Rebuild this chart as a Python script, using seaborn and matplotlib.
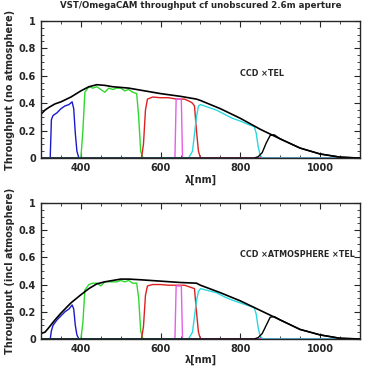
import numpy as np
import pandas as pd
import seaborn as sns
from matplotlib import pyplot as plt
from matplotlib.ticker import MultipleLocator

# ---- CCD x TEL (top) and CCD x ATMOSPHERE x TEL (bottom) ----
env_wl = [300, 310, 320, 335, 350, 375, 400, 420, 440, 460, 480, 500, 520, 550, 600, 650,
          690, 700, 750, 800, 850, 900, 950, 1000, 1050, 1100]
env_top = [0.32, 0.35, 0.37, 0.395, 0.41, 0.445, 0.49, 0.52, 0.535, 0.53, 0.52, 0.515, 0.51,
           0.495, 0.47, 0.45, 0.43, 0.42, 0.36, 0.29, 0.21, 0.14, 0.073, 0.03, 0.007, 0.0]
env_bot = [0.04, 0.05, 0.085, 0.14, 0.19, 0.265, 0.325, 0.37, 0.405, 0.42, 0.43, 0.44, 0.44,
           0.435, 0.425, 0.415, 0.41, 0.395, 0.34, 0.28, 0.21, 0.14, 0.07, 0.03, 0.005, 0.0]

u_wl = [300, 323, 326, 330, 340, 350, 360, 370, 378, 382, 386, 390, 395, 1100]
u_top = [0, 0, 0.28, 0.31, 0.33, 0.36, 0.38, 0.39, 0.41, 0.36, 0.18, 0.05, 0, 0]
u_bot = [0, 0, 0.06, 0.1, 0.14, 0.17, 0.2, 0.22, 0.25, 0.22, 0.1, 0.03, 0, 0]

g_wl = [300, 400, 405, 410, 420, 430, 440, 450, 460, 470, 480, 490, 500, 510, 520, 530,
        540, 545, 550, 556, 1100]
g_top = [0, 0, 0.2, 0.48, 0.52, 0.51, 0.52, 0.5, 0.48, 0.51, 0.5, 0.51, 0.51, 0.49, 0.5,
         0.48, 0.47, 0.3, 0.05, 0, 0]
g_bot = [0, 0, 0.12, 0.36, 0.4, 0.41, 0.41, 0.39, 0.42, 0.42, 0.42, 0.42, 0.43, 0.42, 0.43,
         0.41, 0.41, 0.3, 0.06, 0, 0]

r_wl = [300, 552, 557, 562, 567, 580, 600, 620, 640, 660, 675, 680, 685, 690, 695, 700, 1100]
r_top = [0, 0, 0.1, 0.35, 0.43, 0.445, 0.44, 0.44, 0.43, 0.43, 0.41, 0.4, 0.38, 0.2, 0.05, 0, 0]
r_bot = [0, 0, 0.09, 0.32, 0.39, 0.4, 0.4, 0.395, 0.395, 0.395, 0.38, 0.375, 0.37, 0.2, 0.05, 0, 0]

ha_wl = [300, 636, 639, 652, 655, 1100]
ha_top = [0, 0, 0.43, 0.43, 0, 0]
ha_bot = [0, 0, 0.39, 0.39, 0, 0]

i_wl = [300, 670, 680, 690, 695, 700, 720, 740, 760, 780, 800, 820, 835, 840, 845, 850, 856, 1100]
i_top = [0, 0, 0.05, 0.3, 0.38, 0.39, 0.37, 0.35, 0.32, 0.29, 0.27, 0.245, 0.23, 0.18, 0.08, 0.02, 0, 0]
i_bot = [0, 0, 0.05, 0.28, 0.35, 0.37, 0.355, 0.34, 0.31, 0.285, 0.265, 0.245, 0.23, 0.18, 0.08, 0.02, 0, 0]

z_wl = [300, 835, 845, 855, 865, 875, 885, 900, 950, 1000, 1050, 1100]
z_top = [0, 0, 0.01, 0.04, 0.11, 0.165, 0.17, 0.14, 0.073, 0.03, 0.007, 0]
z_bot = [0, 0, 0.01, 0.04, 0.1, 0.16, 0.165, 0.14, 0.07, 0.03, 0.005, 0]

filters = [
    ('u', u_wl, u_top, u_bot, '#1a1acc'),
    ('g', g_wl, g_top, g_bot, '#2ed82e'),
    ('r', r_wl, r_top, r_bot, '#e02020'),
    ('Ha', ha_wl, ha_top, ha_bot, '#e85ce8'),
    ('i', i_wl, i_top, i_bot, '#2ad8e0'),
    ('z', z_wl, z_top, z_bot, 'black'),
]

sns.set_style('ticks')
plt.rcParams['font.family'] = ['DejaVu Sans']

fig = plt.figure(figsize=(3.8, 3.8), dpi=100)
ax1 = fig.add_axes([0.108, 0.584, 0.839, 0.361])
ax2 = fig.add_axes([0.108, 0.108, 0.839, 0.358])


def draw_panel(ax, which, label, ylabel):
    for name, wl, top, bot, col in filters:
        vals = top if which == 'top' else bot
        sns.lineplot(x=wl, y=vals, ax=ax, color=col, lw=1.0, estimator=None, sort=False)
    env = env_top if which == 'top' else env_bot
    sns.lineplot(x=env_wl, y=env, ax=ax, color='black', lw=1.2, estimator=None, sort=False)
    ax.set_xlim(300, 1100)
    ax.set_ylim(0, 1)
    ax.set_yticks([0, 0.2, 0.4, 0.6, 0.8, 1.0])
    ax.set_yticklabels(['0', '0.2', '0.4', '0.6', '0.8', '1'])
    ax.set_xticks([400, 600, 800, 1000])
    ax.set_xticklabels(['400', '600', '800', '1000'])
    ax.xaxis.set_minor_locator(MultipleLocator(50))
    ax.yaxis.set_minor_locator(MultipleLocator(0.05))
    ax.tick_params(which='both', direction='in', top=True, right=True, labelsize=7)
    ax.tick_params(which='major', length=4, width=0.8)
    ax.tick_params(which='minor', length=2, width=0.6)
    for lab in ax.get_xticklabels() + ax.get_yticklabels():
        lab.set_fontweight('bold')
    for sp in ax.spines.values():
        sp.set_linewidth(1.0)
    ax.set_xlabel('λ[nm]', fontsize=7, fontweight='bold', labelpad=1)
    ax.set_ylabel(ylabel, fontsize=7, fontweight='bold', labelpad=3)
    ax.text(800, 0.62, label, fontsize=5.8, fontweight='bold', ha='left', va='center')


draw_panel(ax1, 'top', 'CCD ×TEL', 'Throughput (no atmosphere)')
draw_panel(ax2, 'bot', 'CCD ×ATMOSPHERE ×TEL', 'Throughput (incl atmosphere)')
ax1.set_title('VST/OmegaCAM throughput cf unobscured 2.6m aperture',
              fontsize=6.2, fontweight='bold', pad=9)

fig.savefig('out.png', dpi=100)
